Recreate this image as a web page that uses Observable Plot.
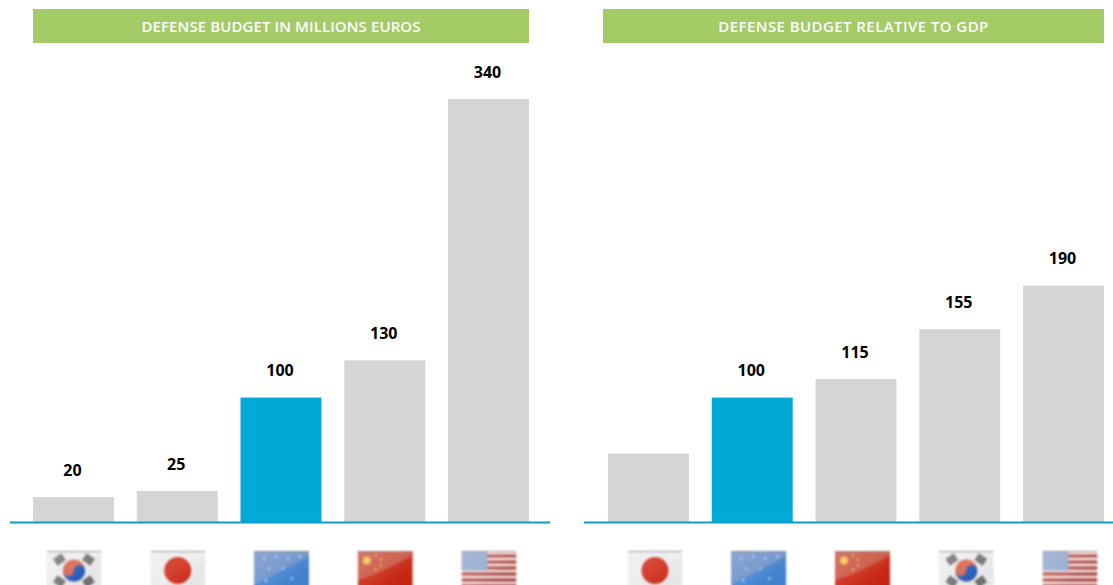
<!DOCTYPE html>
<html>
<head>
<meta charset="utf-8">
<script src="https://cdn.jsdelivr.net/npm/d3@7"></script>
<script src="https://cdn.jsdelivr.net/npm/@observablehq/plot@0.6"></script>
<style>
  html, body { margin: 0; padding: 0; background: #fff; width: 1113px; height: 585px; overflow: hidden; }
  .panel { position: absolute; top: 0; height: 585px; overflow: hidden; }
  .head {
    position: absolute; top: 9px; height: 34px;
    background: #a3cc66; color: #fff;
    font: 600 15px/34px "Open Sans", sans-serif; text-align: center;
  }
  .panel svg { position: absolute; top: 43px; left: 0; overflow: hidden; }
  .flag { filter: blur(1px); }
</style>
</head>
<body>
<div id="chart"></div>
<script>
const titles = ["DEFENSE BUDGET IN MILLIONS EUROS", "DEFENSE BUDGET RELATIVE TO GDP"];

const leftCountries = ["South Korea", "Japan", "EU", "China", "USA"];
const leftValues = [20, 25, 100, 130, 340];

const rightCountries = ["Japan", "EU", "China", "South Korea", "USA"];
const rightValues = [55, 100, 115, 155, 190];
const rightLabelled = [false, true, true, true, true];

const highlighted = "EU";
const barGrey = "#d5d5d5";
const barBlue = "#00a9d6";
const baseBlue = "#0b9cc8";

const sheen = `<defs><linearGradient id="s" x1="0" y1="0" x2="1" y2="1"><stop offset="0" stop-color="#fff" stop-opacity=".22"/><stop offset=".5" stop-color="#fff" stop-opacity=".1"/><stop offset="1" stop-color="#000" stop-opacity="0"/></linearGradient></defs>`;
const wrap = inner => `<svg xmlns="http://www.w3.org/2000/svg" viewBox="0 0 55 40" width="55" height="40">${sheen}${inner}<rect width="55" height="40" fill="url(#s)"/><rect width="55" height="1.5" fill="#888" opacity=".8"/></svg>`;
const stripes = [4, 10, 16, 22, 28, 34].map(y => `<rect x="0" y="${y}" width="55" height="3" fill="#a5413e"/>`).join("");
const flagArt = {
  "South Korea": wrap(`<rect width="55" height="40" fill="#ececec"/>
    <g fill="#6e6e6e"><rect x="8" y="5" width="10" height="8" transform="rotate(-35 13 9)"/><rect x="37" y="5" width="10" height="8" transform="rotate(35 42 9)"/><rect x="8" y="27" width="10" height="8" transform="rotate(35 13 31)"/><rect x="37" y="27" width="10" height="8" transform="rotate(-35 42 31)"/></g>
    <circle cx="27.5" cy="20" r="11" fill="#d8604a"/><path d="M16.5 20a5.5 5.5 0 0 0 11 0a5.5 5.5 0 0 1 11 0a11 11 0 0 1-22 0z" fill="#1a55b8"/>`),
  "Japan": wrap(`<rect width="55" height="40" fill="#ececec"/><circle cx="27.5" cy="20" r="13.5" fill="#d02a18"/>`),
  "EU": wrap(`<rect width="55" height="40" fill="#3f82d0"/><path d="M0 34L55 6V0H0z" fill="#6a8ec8"/><g fill="#9fc0e8"><circle cx="10" cy="8" r="1.5"/><circle cx="22" cy="6" r="1.5"/><circle cx="34" cy="8" r="1.5"/><circle cx="46" cy="6" r="1.5"/><circle cx="15" cy="18" r="1.5"/><circle cx="29" cy="18" r="1.5"/><circle cx="12" cy="30" r="1.5"/><circle cx="38" cy="28" r="1.5"/></g>`),
  "China": wrap(`<rect width="55" height="40" fill="#c9220e"/><path d="M0 30Q25 22 55 5V0H0z" fill="#c9503c"/><circle cx="9" cy="10" r="4" fill="#f0c244"/><g fill="#e0a840"><circle cx="18" cy="5" r="1.3"/><circle cx="23" cy="9" r="1.3"/><circle cx="23" cy="15" r="1.3"/><circle cx="18" cy="19" r="1.3"/></g>`),
  "USA": wrap(`<rect width="55" height="40" fill="#f6dcd8"/>${stripes}<rect width="26" height="20" fill="#8fa6cc"/>`)
};
const flagUrl = c => "data:image/svg+xml," + encodeURIComponent(flagArt[c]);

const W = 1113;
const yDomain = [0, 340];
const yRange = [479, 56];

function panel(countries, values, labelled, svgWidth, xRange, flagShift) {
  const rows = countries.map((country, i) => ({country, value: values[i], labelled: labelled ? labelled[i] : true}));
  return Plot.plot({
    width: svgWidth,
    height: 542,
    marginTop: 0,
    marginLeft: 0,
    marginRight: 0,
    marginBottom: 63,
    x: {type: "band", domain: countries, range: xRange, round: false, paddingInner: 0.22, paddingOuter: 0, axis: null},
    y: {domain: yDomain, range: yRange, axis: null},
    marks: [
      Plot.barY(rows, {x: "country", y: "value", fill: d => d.country === highlighted ? barBlue : barGrey}),
      Plot.ruleY([0], {stroke: baseBlue, strokeWidth: 2}),
      Plot.text(rows.filter(d => d.labelled), {
        x: "country", y: "value", text: d => String(d.value), dx: -1.5, dy: -27,
        fontFamily: "Open Sans", fontWeight: 700, fontSize: 16, fill: "#000"
      }),
      Plot.image(rows, {
        x: "country", src: d => flagUrl(d.country), frameAnchor: "bottom", dx: flagShift, dy: 48,
        width: 55, height: 40, className: "flag"
      })
    ]
  });
}

const host = document.getElementById("chart");
function mount(left, width, headLeft, headWidth, spacing, title, svg) {
  const p = document.createElement("div");
  p.className = "panel";
  p.style.left = left + "px";
  p.style.width = width + "px";
  const h = document.createElement("div");
  h.className = "head";
  h.style.left = headLeft + "px";
  h.style.width = headWidth + "px";
  h.style.letterSpacing = spacing + "px";
  h.textContent = title;
  p.append(h, svg);
  host.append(p);
}
mount(10, 540, 23, 496, 0.1, titles[0], panel(leftCountries, leftValues, null, 540, [23, 519], 0));
mount(584, W - 584, 19, 501, 0.43, titles[1], panel(rightCountries, rightValues, rightLabelled, W - 584, [24, 520], 6));
</script>
</body>
</html>
